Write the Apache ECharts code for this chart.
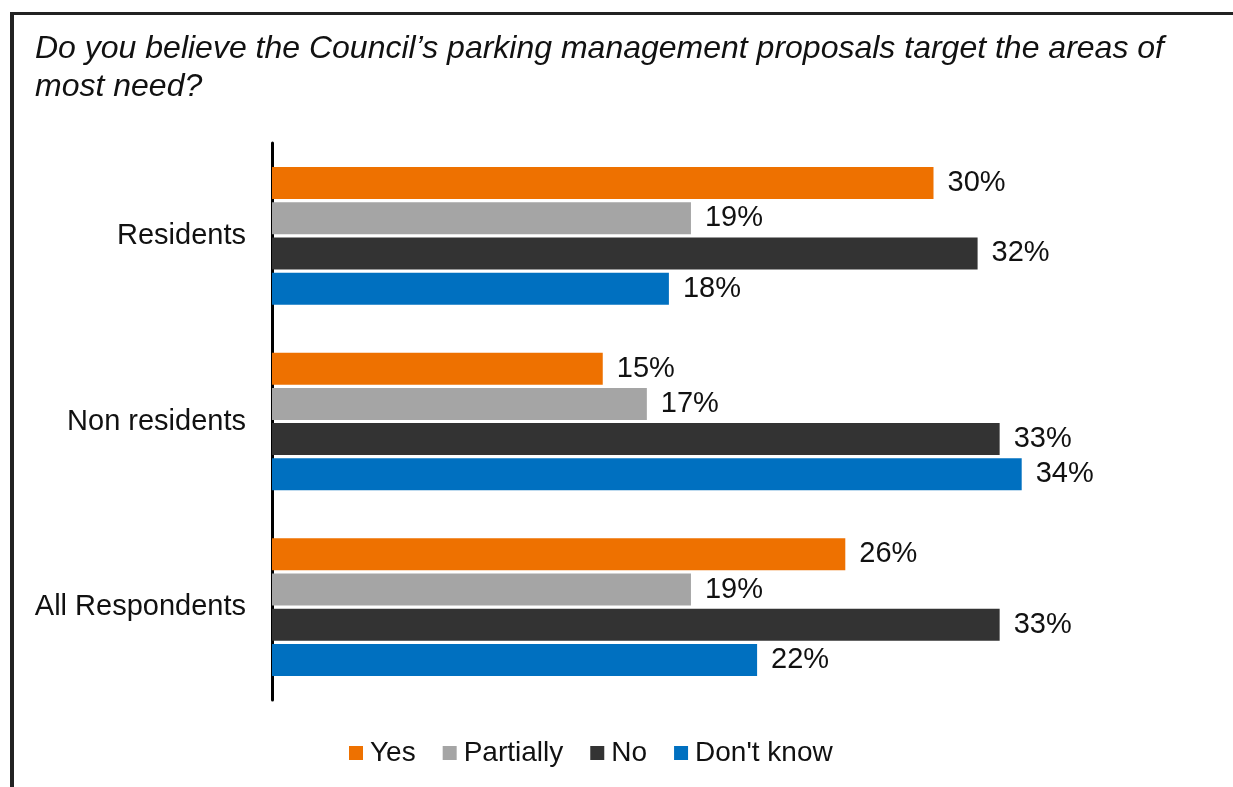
<!DOCTYPE html>
<html>
<head>
<meta charset="utf-8">
<script src="https://cdn.jsdelivr.net/npm/echarts@6/dist/echarts.min.js"></script>
<style>
  html, body { margin: 0; padding: 0; background: #fff; }
  #frame {
    position: absolute; left: 10px; top: 12px; right: 0; bottom: 0;
    border-top: 3px solid #222; border-left: 4px solid #222;
  }
  #chart { position: absolute; left: 0; top: 0; width: 1233px; height: 787px; }
</style>
</head>
<body>
<div id="frame"></div>
<div id="chart"></div>
<script>
const titleText = 'Do you believe the Council\u2019s parking management proposals target the areas of\nmost need?';
const categories = ['Residents', 'Non residents', 'All Respondents'];
const seriesNames = ['Yes', 'Partially', 'No', "Don't know"];
const seriesColors = ['#EE7100', '#A5A5A5', '#333333', '#0070C0'];
const yesValues = [30, 15, 26];
const partiallyValues = [19, 17, 19];
const noValues = [32, 33, 33];
const dontKnowValues = [18, 34, 22];
const allValues = [yesValues, partiallyValues, noValues, dontKnowValues];

const FONT = '"Liberation Sans", Arial, sans-serif';

const chart = echarts.init(document.getElementById('chart'), null, { renderer: 'canvas' });
chart.setOption({
  backgroundColor: 'transparent',
  animation: false,
  title: {
    text: titleText,
    left: 30,
    top: 25,
    textStyle: {
      fontFamily: FONT, fontStyle: 'italic', fontWeight: 'normal',
      fontSize: 32, lineHeight: 38, color: '#111'
    }
  },
  legend: {
    bottom: 15,
    left: 344,
    itemWidth: 14,
    itemHeight: 14,
    itemGap: 27,
    icon: 'rect',
    textStyle: { fontFamily: FONT, fontSize: 28, color: '#111', padding: [0, 0, 0, 2] },
    data: seriesNames
  },
  grid: { left: 272, top: 143, width: 882, height: 557, containLabel: false },
  xAxis: {
    type: 'value', min: 0, max: 40, show: false,
    splitLine: { show: false }
  },
  yAxis: {
    type: 'category',
    inverse: true,
    data: categories,
    axisLine: { show: true, lineStyle: { color: '#000', width: 3 } },
    axisTick: { show: false },
    axisLabel: { fontFamily: FONT, fontSize: 29, color: '#111', margin: 26 }
  },
  series: seriesNames.map((name, i) => ({
    name,
    type: 'bar',
    data: allValues[i],
    barWidth: 32,
    barGap: '10%',
    itemStyle: { color: seriesColors[i] },
    label: {
      show: true, position: 'right', distance: 14,
      formatter: '{c}%',
      fontFamily: FONT, fontSize: 29, color: '#111'
    }
  }))
});
</script>
</body>
</html>
